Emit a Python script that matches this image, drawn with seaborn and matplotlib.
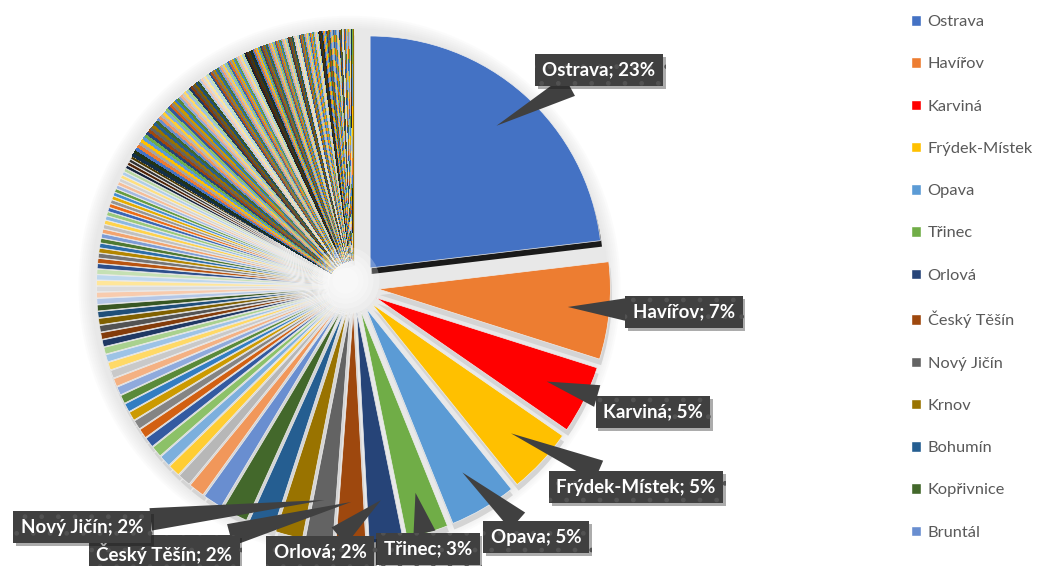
import colorsys

import matplotlib
matplotlib.use("Agg")
import matplotlib.pyplot as plt
import matplotlib.patheffects as pe
from matplotlib.patches import Circle, Patch
import numpy as np
import seaborn as sns

# --- data: population of municipalities (persons), in data order ---
named_towns = ["Ostrava", "Havířov", "Karviná", "Frýdek-Místek", "Opava", "Třinec",
               "Orlová", "Český Těšín", "Nový Jičín", "Krnov", "Bohumín",
               "Kopřivnice", "Bruntál"]
named_values = [287000, 84000, 59000, 57000, 58000, 36000,
                29000, 25500, 23600, 23600, 21800,
                22400, 16900]

# remaining (unnamed in legend) municipalities
other_values = [
    13600, 11000, 10300, 9900, 9500, 8600, 8200, 7900, 7600, 7300, 7200, 7100,
    6900, 6700, 6500, 6200, 5900, 5800, 5700, 5600, 5500, 5300, 5100, 5000, 4800,
    4600, 4500, 4400, 4300, 4200, 4100, 4000, 3900, 3850, 3800, 3700, 3600, 3550,
    3500, 3400, 3350, 3300, 3200, 3150, 3100,
    3000, 2980, 2950, 2920, 2880, 2850, 2830, 2790, 2760, 2740, 2700, 2660, 2640,
    2600, 2570, 2530, 2500, 2470, 2430, 2400, 2360, 2330, 2290, 2260, 2230, 2190,
    2150, 2110, 2080, 2040,
    1990, 1980, 1950, 1920, 1900, 1880, 1870, 1840, 1820, 1800, 1780, 1770, 1740,
    1720, 1700, 1690, 1660, 1640, 1620, 1600, 1590, 1570, 1550, 1530, 1500, 1490,
    1470, 1460, 1440, 1420, 1400, 1390, 1370, 1360, 1340, 1330, 1310, 1300, 1290,
    1270, 1260, 1250, 1240, 1230, 1220, 1210, 1200, 1190, 1185, 1180,
    1170, 1160, 1150, 1140, 1120, 1110, 1100, 1090, 1080, 1060, 1050, 1040, 1030,
    1020, 1010, 1000, 990, 980, 970, 960, 950, 940, 930, 920, 910, 900, 890, 880,
    870, 860, 850, 840, 830, 820, 815, 810, 800, 790, 780, 775, 770, 760, 750, 745,
    740, 730, 720, 715, 710, 700, 695, 690, 680, 675, 670, 660, 655, 650, 640, 635,
    630, 620, 615, 610, 600, 595, 590, 580, 575, 570, 560, 555, 550, 545, 540, 530,
    525, 520, 510, 505, 500, 495, 490, 480, 475, 470, 465, 460, 450, 445, 440, 435,
    430, 420, 415, 410, 405, 400, 395, 390, 385, 380, 370, 365, 360, 355, 350, 345,
    340, 335, 330, 320, 315, 310, 305, 300, 295, 290, 285, 280, 275, 270, 265, 260,
    255, 250, 245, 240, 235, 230, 225, 220, 215, 210, 205, 200, 195, 190, 185, 180,
    175, 170, 165, 160, 155, 150, 145, 140, 135, 130, 125, 120, 115, 110, 105, 100,
    95, 90, 85, 80,
]

labelled = ["Ostrava", "Havířov", "Karviná", "Frýdek-Místek", "Opava", "Třinec",
            "Orlová", "Český Těšín", "Nový Jičín"]
# label box centres in pixels (x from left, y from top)
label_pos = [(599, 70), (684, 312), (653, 412), (636, 487), (536, 537),
             (428, 549), (320, 552), (164, 553), (82, 527)]

values = named_values + other_values

# --- Excel-like colour cycle ---
accents = ["#4472C4", "#ED7D31", "#A5A5A5", "#FFC000", "#5B9BD5", "#70AD47"]
variants = [(1, 0), (0.6, 0), (0.8, 0.2), (0.8, 0), (0.6, 0.4), (0.5, 0),
            (0.4, 0.6), (0.7, 0), (0.7, 0.3), (0.9, 0), (0.5, 0.5), (0.3, 0)]


def excel_color(hexcol, mod, off):
    r, g, b = matplotlib.colors.to_rgb(hexcol)
    h, l, s = colorsys.rgb_to_hls(r, g, b)
    return colorsys.hls_to_rgb(h, min(1, l * mod + off), s)


colors = []
for i in range(len(values)):
    mod, off = variants[(i // 6) % len(variants)]
    colors.append(excel_color(accents[i % 6], mod, off))
colors[2] = "#FF0000"  # Karviná highlighted in red

W, H = 1040, 566
sns.set_style("white")
plt.rcParams["font.family"] = ["Lato", "DejaVu Sans"]

fig = plt.figure(figsize=(W / 100, H / 100), dpi=100)
ax = fig.add_axes([0, 0, 1, 1])

cx, cy, radius, expl = 353.5, H - 286.7, 232, 25

# soft halo around the pie
for k in range(1, 8):
    ax.add_patch(Circle((cx - 4, cy), radius + expl + 2 * k, color="#9a9a9a",
                        alpha=0.03, lw=0, zorder=0))

# shadow pass
shadow_cols = ["#1a1a1a"] + ["#d4d4d4"] * (len(values) - 1)
ax.pie(values, colors=shadow_cols, startangle=90, counterclock=False,
       center=(cx + 1.5, cy - 6), radius=radius, explode=[expl] * len(values),
       wedgeprops=dict(linewidth=0), frame=True)

wedges, _ = ax.pie(values, colors=colors, startangle=90, counterclock=False,
                   center=(cx, cy), radius=radius, explode=[expl] * len(values),
                   wedgeprops=dict(linewidth=0), frame=True)
# light separators where slices are wide; hard edges for hair-thin slices
for w in wedges[:70]:
    w.set_edgecolor("#eeeeee")
    w.set_linewidth(0.5)
for w in wedges[70:]:
    w.set_antialiased(False)
ax.set_xlim(0, W)
ax.set_ylim(0, H)
ax.set_aspect("equal")
ax.axis("off")

# white glow in the centre
for rr in [34, 28, 23, 18, 13]:
    ax.add_patch(Circle((cx - 8, cy + 6), rr, color="white", alpha=0.25, lw=0, zorder=3))

# data labels with callouts
total = sum(values)
for name, (px, py) in zip(labelled, label_pos):
    i = named_towns.index(name)
    w = wedges[i]
    thm = np.deg2rad((w.theta1 + w.theta2) / 2)
    tip = (w.center[0] + 0.82 * w.r * np.cos(thm), w.center[1] + 0.82 * w.r * np.sin(thm))
    pct = values[i] / total * 100
    ann = ax.annotate(f"{name}; {pct:.0f}%", xy=tip, xytext=(px, H - py),
                      ha="center", va="center", fontsize=13.5, fontweight="bold",
                      color="white", zorder=6,
                      bbox=dict(boxstyle="square,pad=0.4", fc="#404040", ec="#525252",
                                lw=0, hatch="."),
                      arrowprops=dict(arrowstyle="wedge,tail_width=1.2,shrink_factor=0.5",
                                      fc="#404040", ec="none", shrinkA=0, shrinkB=0))
    ann.get_bbox_patch().set_path_effects([pe.SimplePatchShadow(offset=(2, -2), alpha=0.35),
                                           pe.Normal()])

# legend (first entries only, as in the original)
handles = [Patch(facecolor=colors[i]) for i in range(len(named_towns))]
fig.legend(handles, named_towns, loc="upper left", bbox_to_anchor=(911 / W, 1 - 15 / H),
           frameon=False, fontsize=11.8, labelcolor="#595959", handlelength=0.62,
           handleheight=0.62, handletextpad=0.4, labelspacing=1.72,
           borderaxespad=0, borderpad=0)

fig.savefig("out.png", dpi=100)
